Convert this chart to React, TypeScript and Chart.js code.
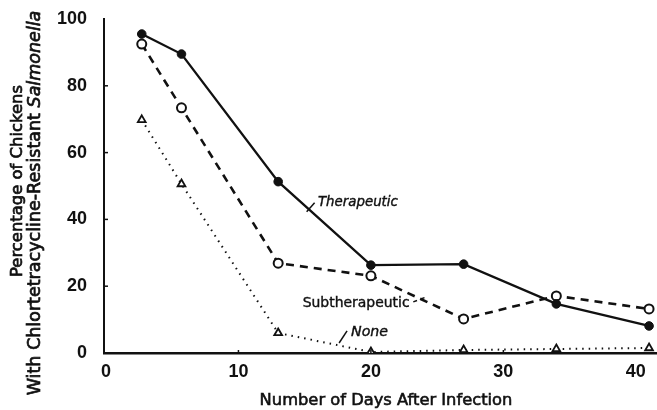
import React, { useEffect, useRef } from "react";
import { Chart, registerables } from "chart.js";

Chart.register(...registerables);

// ---- data ----
const days = [2.7, 5.7, 13, 20, 27, 34, 41];
const therapeutic = [95.5, 89.5, 51.3, 26.3, 26.6, 14.7, 8.1];
const subtherapeutic = [92.5, 73.4, 26.9, 23.1, 10.2, 17.1, 13.2];
const noneSeries = [69.8, 50.6, 6.0, 0.3, 0.9, 1.2, 1.5];
const seriesNames = ["Therapeutic", "Subtherapeutic", "None"];
const xTicks = [0, 10, 20, 30, 40];
const yTicks = [0, 20, 40, 60, 80, 100];
const xTitle = "Number of Days After Infection";
const yTitleLine1 = "Percentage of Chickens";
const yTitleLine2a = "With Chlortetracycline-Resistant ";
const yTitleLine2b = "Salmonella";

const TICK_FONT = "'Liberation Sans', Arial, sans-serif";
const TEXT_FONT = "'DejaVu Sans', sans-serif";

const toPts = (vals: number[]) => vals.map((v, i) => ({ x: days[i], y: v }));

// font size that makes `text` span `target` pixels
function fitSize(ctx: CanvasRenderingContext2D, parts: [string, string][], target: number) {
  let w = 0;
  parts.forEach(([style, t]) => {
    ctx.font = `${style} 100px ${TEXT_FONT}`;
    w += ctx.measureText(t).width;
  });
  return (100 * target) / w;
}

function heavyText(ctx: CanvasRenderingContext2D, t: string, x: number, y: number) {
  ctx.fillText(t, x, y);
  ctx.strokeText(t, x, y);
}

const decorPlugin = {
  id: "decor",
  afterDraw(chart: any) {
    const { ctx, scales, chartArea } = chart;
    const xs = scales.x;
    const ys = scales.y;
    const px = (v: number) => xs.getPixelForValue(v);
    const py = (v: number) => ys.getPixelForValue(v);
    ctx.save();
    ctx.strokeStyle = "#111";
    ctx.fillStyle = "#111";
    // inward ticks
    ctx.lineWidth = 1.5;
    [20, 40, 60, 80].forEach((t) => {
      ctx.beginPath();
      ctx.moveTo(chartArea.left, py(t));
      ctx.lineTo(chartArea.left + 4, py(t));
      ctx.stroke();
    });
    [10, 20, 30].forEach((t) => {
      ctx.beginPath();
      ctx.moveTo(px(t), chartArea.bottom);
      ctx.lineTo(px(t), chartArea.bottom - 3);
      ctx.stroke();
    });

    // series annotations
    ctx.textBaseline = "middle";
    ctx.textAlign = "left";
    ctx.lineWidth = 1.5;
    // Therapeutic
    ctx.beginPath();
    ctx.moveTo(px(15.15), py(42.3));
    ctx.lineTo(px(15.75), py(45.0));
    ctx.stroke();
    let s = fitSize(ctx, [["italic", seriesNames[0]]], 80);
    ctx.font = `italic ${s}px ${TEXT_FONT}`;
    ctx.lineWidth = 0.4;
    heavyText(ctx, seriesNames[0], px(16.0), py(45.2));
    // Subtherapeutic
    s = fitSize(ctx, [["", seriesNames[1]]], 107);
    ctx.font = `${s}px ${TEXT_FONT}`;
    heavyText(ctx, seriesNames[1], px(14.85), py(15.0));
    ctx.lineWidth = 1.5;
    ctx.setLineDash([4, 4]);
    ctx.beginPath();
    ctx.moveTo(px(23.2), py(15.3));
    ctx.lineTo(px(24.2), py(16.8));
    ctx.stroke();
    ctx.setLineDash([]);
    // None
    ctx.beginPath();
    ctx.moveTo(px(17.6), py(3.0));
    ctx.lineTo(px(18.2), py(6.6));
    ctx.stroke();
    s = fitSize(ctx, [["italic", seriesNames[2]]], 37);
    ctx.font = `italic ${s}px ${TEXT_FONT}`;
    ctx.lineWidth = 0.4;
    heavyText(ctx, seriesNames[2], px(18.5), py(6.2));

    // x axis title
    s = fitSize(ctx, [["", xTitle]], 253);
    ctx.font = `${s}px ${TEXT_FONT}`;
    ctx.textAlign = "center";
    ctx.lineWidth = 0.6;
    heavyText(ctx, xTitle, 386, 401);

    // y axis title (two lines, rotated)
    ctx.save();
    ctx.rotate(-Math.PI / 2);
    s = fitSize(ctx, [["", yTitleLine1]], 192);
    ctx.font = `${s}px ${TEXT_FONT}`;
    ctx.textAlign = "center";
    ctx.lineWidth = 0.7;
    heavyText(ctx, yTitleLine1, -181, 18);
    s = fitSize(ctx, [["", yTitleLine2a], ["italic", yTitleLine2b]], 385);
    const normal = `${s}px ${TEXT_FONT}`;
    const ital = `italic ${s}px ${TEXT_FONT}`;
    ctx.font = normal;
    const w1 = ctx.measureText(yTitleLine2a).width;
    ctx.font = ital;
    const w2 = ctx.measureText(yTitleLine2b).width;
    const start = -203 - (w1 + w2) / 2;
    ctx.textAlign = "left";
    ctx.font = normal;
    heavyText(ctx, yTitleLine2a, start, 35);
    ctx.font = ital;
    heavyText(ctx, yTitleLine2b, start + w1, 35);
    ctx.restore();
    ctx.restore();
  },
};

export default function App() {
  const ref = useRef<HTMLCanvasElement | null>(null);
  useEffect(() => {
    document.body.style.margin = "0";
    const canvas = ref.current!;
    const chart = new Chart(canvas, {
      type: "line",
      data: {
        datasets: [
          {
            label: seriesNames[0],
            data: toPts(therapeutic),
            borderColor: "#111",
            backgroundColor: "#111",
            borderWidth: 2.3,
            pointRadius: 4.3,
            pointBorderWidth: 1,
            pointBackgroundColor: "#111",
            pointBorderColor: "#111",
            tension: 0,
          },
          {
            label: seriesNames[1],
            data: toPts(subtherapeutic),
            borderColor: "#111",
            borderWidth: 2.6,
            borderDash: [8, 6],
            pointRadius: 4.5,
            pointBorderWidth: 2,
            pointBackgroundColor: "#fff",
            pointBorderColor: "#111",
            tension: 0,
          },
          {
            label: seriesNames[2],
            data: toPts(noneSeries),
            borderColor: "#111",
            borderWidth: 2,
            borderDash: [1.5, 5],
            pointStyle: "triangle",
            pointRadius: 4.5,
            pointBorderWidth: 1.8,
            pointBackgroundColor: "#fff",
            pointBorderColor: "#111",
            tension: 0,
          },
        ],
      },
      options: {
        animation: false,
        responsive: false,
        layout: { autoPadding: false, padding: { top: 19, right: 0, left: 0, bottom: 0 } },
        plugins: { legend: { display: false }, tooltip: { enabled: false } },
        scales: {
          x: {
            type: "linear",
            min: -0.15,
            max: 41.6,
            afterBuildTicks: (sc: any) => {
              sc.ticks = xTicks.map((v) => ({ value: v }));
            },
            afterFit: (sc: any) => {
              sc.height = 57;
              sc.paddingLeft = 0;
              sc.paddingRight = 0;
            },
            grid: { display: false, drawTicks: false },
            border: { display: true, color: "#111", width: 2.5 },
            ticks: {
              padding: 8,
              color: "#111",
              font: { family: TICK_FONT, size: 18, weight: "bold" },
              maxRotation: 0,
            },
          },
          y: {
            min: 0,
            max: 100,
            afterBuildTicks: (sc: any) => {
              sc.ticks = yTicks.map((v) => ({ value: v }));
            },
            afterFit: (sc: any) => {
              sc.width = 104;
              sc.paddingTop = 0;
              sc.paddingBottom = 0;
            },
            grid: { display: false, drawTicks: false },
            border: { display: true, color: "#111", width: 2 },
            ticks: {
              padding: 17,
              color: "#111",
              font: { family: TICK_FONT, size: 18, weight: "bold" },
            },
          },
        },
      },
      plugins: [decorPlugin],
    } as any);
    return () => chart.destroy();
  }, []);
  return (
    <div style={{ width: 657, height: 410, background: "#fff" }}>
      <canvas ref={ref} width={657} height={410} style={{ display: "block" }} />
    </div>
  );
}
